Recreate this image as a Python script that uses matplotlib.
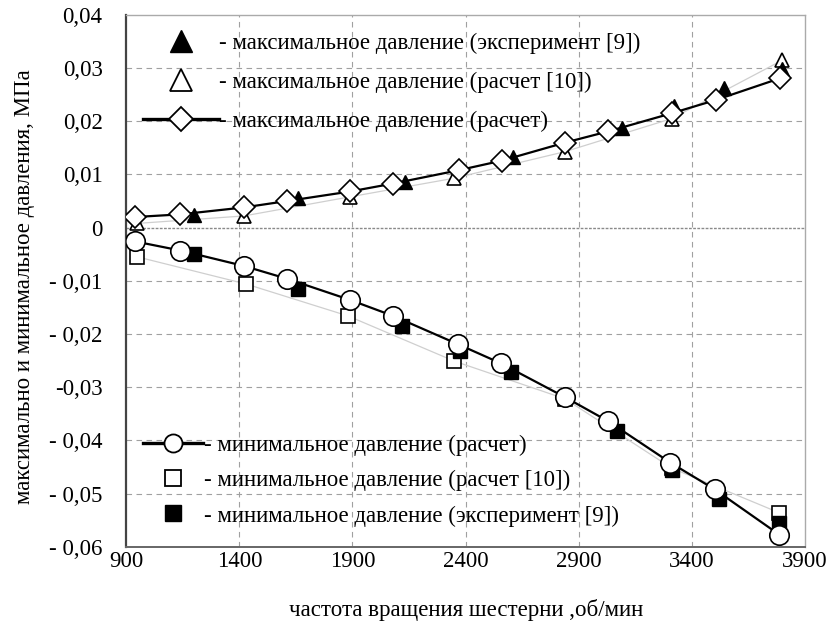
import matplotlib
matplotlib.use("Agg")
import matplotlib.pyplot as plt
from matplotlib.lines import Line2D
from matplotlib.ticker import FixedLocator, FixedFormatter

plt.rcParams['font.family'] = ['Liberation Serif', 'DejaVu Serif']

# Maximum pressure
rpm_max_calc = [940, 1140, 1420, 1610, 1890, 2080, 2370, 2560, 2840, 3030, 3310, 3505, 3790]
p_max_calc = [0.0020, 0.0025, 0.0038, 0.0050, 0.0068, 0.0083, 0.0108, 0.0126, 0.0160, 0.0181, 0.0215, 0.0240, 0.0281]

rpm_max_exp = [1200, 1660, 2130, 2610, 3090, 3320, 3540, 3800]
p_max_exp = [0.0023, 0.0056, 0.0085, 0.0132, 0.0188, 0.0228, 0.0262, 0.0298]

rpm_max_ref = [950, 1420, 1890, 2350, 2840, 3310, 3800]
p_max_ref = [0.0008, 0.0022, 0.0058, 0.0093, 0.0143, 0.0205, 0.0315]

# Minimum pressure
rpm_min_calc = [940, 1140, 1420, 1610, 1890, 2080, 2365, 2555, 2840, 3030, 3305, 3500, 3785]
p_min_calc = [-0.0026, -0.0043, -0.0072, -0.0096, -0.0136, -0.0166, -0.0219, -0.0255, -0.0319, -0.0364, -0.0442, -0.0492, -0.0577]

rpm_min_ref = [950, 1430, 1880, 2350, 2840, 3310, 3785]
p_min_ref = [-0.0055, -0.0106, -0.0166, -0.0251, -0.0322, -0.0452, -0.0536]

rpm_min_exp = [1200, 1660, 2120, 2375, 2600, 3070, 3310, 3520, 3785]
p_min_exp = [-0.0049, -0.0115, -0.0185, -0.0232, -0.0272, -0.0383, -0.0455, -0.0511, -0.0555]

x_ticks = [900, 1400, 1900, 2400, 2900, 3400, 3900]
y_ticks = [0.04, 0.03, 0.02, 0.01, 0.0, -0.01, -0.02, -0.03, -0.04, -0.05, -0.06]
y_tick_labels = ['0,04', '0,03', '0,02', '0,01', '0', '- 0,01', '- 0,02', '-0,03', '- 0,04', '- 0,05', '- 0,06']

labels_max = ['- максимальное давление (эксперимент [9])',
              '- максимальное давление (расчет [10])',
              '- максимальное давление (расчет)']
labels_min = ['- минимальное давление (расчет)',
              '- минимальное давление (расчет [10])',
              '- минимальное давление (эксперимент [9])']

FS = 16.5

fig = plt.figure(figsize=(8.3, 6.22), dpi=100)
ax = fig.add_axes([0.152, 0.121, 0.818, 0.855])

ax.set_xlim(900, 3900)
ax.set_ylim(-0.06, 0.04)

# grid
for xv in x_ticks[1:-1]:
    ax.axvline(xv, color='#a0a0a0', lw=0.8, ls=(0, (5, 4)), zorder=0)
for yv in y_ticks[1:-1]:
    if yv == 0:
        ax.axhline(yv, color='#8a8a8a', lw=1.0, ls=(0, (2, 1)), zorder=0)
    else:
        ax.axhline(yv, color='#a0a0a0', lw=0.8, ls=(0, (5, 4)), zorder=0)

# faint lines joining the [10] computed points
ax.plot(rpm_max_ref, p_max_ref, color='#cfcfcf', lw=0.9, zorder=1)
ax.plot(rpm_min_ref, p_min_ref, color='#cfcfcf', lw=0.9, zorder=1)

ms_tri = 10.5
ms_sq = 9.5
ax.plot(rpm_max_ref, p_max_ref, ls='none', marker='^', ms=ms_tri, mfc='white', mec='black', mew=1.2, zorder=2)
ax.plot(rpm_max_exp, p_max_exp, ls='none', marker='^', ms=ms_tri, mfc='black', mec='black', zorder=3)
ax.plot(rpm_min_ref, p_min_ref, ls='none', marker='s', ms=ms_sq, mfc='white', mec='black', mew=1.2, zorder=2)
ax.plot(rpm_min_exp, p_min_exp, ls='none', marker='s', ms=ms_sq, mfc='black', mec='black', zorder=3)

ax.plot(rpm_max_calc, p_max_calc, color='black', lw=1.6, marker='D', ms=11,
        mfc='white', mec='black', mew=1.2, zorder=4)
ax.plot(rpm_min_calc, p_min_calc, color='black', lw=1.6, marker='o', ms=14,
        mfc='white', mec='black', mew=1.2, zorder=4)

# ticks
ax.xaxis.set_major_locator(FixedLocator(x_ticks))
ax.yaxis.set_major_locator(FixedLocator(y_ticks))
ax.yaxis.set_major_formatter(FixedFormatter(y_tick_labels))
ax.tick_params(axis='both', length=0, labelsize=FS, colors='black')
ax.tick_params(axis='x', pad=3)
ax.tick_params(axis='y', pad=17)

ax.set_xlabel('частота вращения шестерни ,об/мин', fontsize=FS)
ax.xaxis.set_label_coords(0.5, -0.098)
ax.set_ylabel('максимально и минимальное давления, МПа', fontsize=FS)
ax.yaxis.set_label_coords(-0.135, 0.49)

for side in ['top', 'right']:
    ax.spines[side].set_color('#aaaaaa')
    ax.spines[side].set_linewidth(1.0)
    ax.spines[side].set_linestyle((0, (3, 1)))
ax.spines['left'].set_color('#444444')
ax.spines['left'].set_linewidth(1.6)
ax.spines['bottom'].set_color('#666666')
ax.spines['bottom'].set_linewidth(1.4)

# legends
h_max = [Line2D([], [], ls='none', marker='^', ms=16, mfc='black', mec='black'),
         Line2D([], [], ls='none', marker='^', ms=16, mfc='white', mec='black', mew=1.3),
         Line2D([], [], color='black', lw=2.4, marker='D', ms=12.5, mfc='white', mec='black', mew=1.3)]
leg1 = ax.legend(h_max, labels_max, loc='upper left', bbox_to_anchor=(0.025, 0.966),
                 frameon=False, fontsize=FS, handlelength=3.3, handletextpad=0.0,
                 labelspacing=0.77, borderaxespad=0, borderpad=0)
ax.add_artist(leg1)

h_min = [Line2D([], [], color='black', lw=2.4, marker='o', ms=13, mfc='white', mec='black', mew=1.3),
         Line2D([], [], ls='none', marker='s', ms=12, mfc='white', mec='black', mew=1.3),
         Line2D([], [], ls='none', marker='s', ms=12, mfc='black', mec='black')]
ax.legend(h_min, labels_min, loc='upper left', bbox_to_anchor=(0.025, 0.211),
          frameon=False, fontsize=FS, handlelength=2.6, handletextpad=0.05,
          labelspacing=0.62, borderaxespad=0, borderpad=0)

fig.savefig('out.png', dpi=100)
